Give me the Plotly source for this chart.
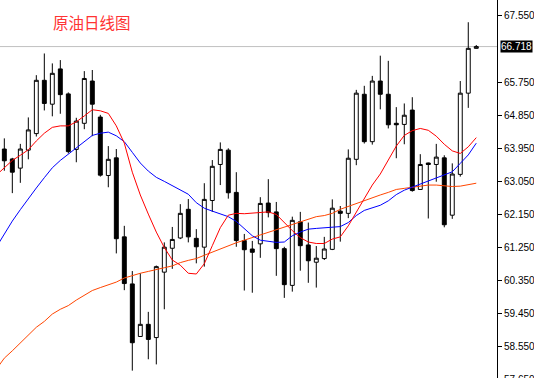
import plotly.graph_objects as go

# ---- data ----
idx = list(range(60))
open_ = [63.93, 63.66, 63.41, 63.90, 64.35, 65.80, 65.15, 66.11, 65.43, 63.92,
         64.63, 65.78, 64.80, 63.21, 63.69, 61.54, 60.26, 58.83, 59.16, 58.80,
         60.58, 61.23, 61.51, 62.29, 61.50, 61.26, 62.53, 63.51, 63.90, 62.75,
         61.44, 61.21, 61.35, 62.46, 62.22, 61.22, 60.22, 61.95, 61.32, 60.85,
         60.95, 61.20, 62.24, 62.18, 63.65, 65.42, 64.13, 65.78, 65.42, 64.63,
         64.60, 64.99, 62.83, 63.55, 63.51, 63.69, 62.13, 63.24, 65.45, 66.67]
high_ = [64.22, 63.69, 64.07, 64.79, 65.94, 66.53, 66.26, 66.35, 65.47, 64.78,
         66.05, 66.08, 64.86, 64.01, 63.93, 61.84, 60.61, 60.55, 59.50, 60.76,
         61.39, 61.81, 62.43, 62.57, 61.75, 63.00, 63.63, 64.11, 63.95, 63.30,
         61.62, 61.43, 62.62, 63.11, 62.49, 61.27, 62.09, 62.22, 61.93, 61.29,
         61.54, 62.56, 62.38, 63.92, 65.54, 65.65, 65.92, 66.47, 66.33, 65.07,
         65.17, 65.34, 63.79, 63.56, 64.07, 63.76, 63.54, 65.78, 67.38, 66.76]
low_ = [63.34, 62.73, 63.01, 63.65, 64.27, 64.98, 64.82, 64.89, 63.81, 63.57,
        64.47, 64.28, 63.18, 62.89, 61.09, 60.09, 57.90, 58.82, 58.21, 58.07,
        59.57, 60.67, 61.48, 61.39, 60.82, 60.73, 62.22, 62.95, 62.58, 61.27,
        60.08, 60.02, 60.97, 62.07, 60.48, 59.88, 60.05, 60.62, 60.29, 60.16,
        60.91, 61.18, 61.41, 62.05, 63.49, 64.08, 64.05, 65.01, 64.49, 63.68,
        64.06, 62.77, 62.82, 62.04, 63.04, 61.80, 62.03, 63.18, 65.05, 66.66]
close_ = [63.61, 63.30, 63.93, 64.45, 65.80, 65.17, 65.99, 65.41, 63.86, 64.69,
          65.85, 65.15, 63.22, 63.65, 61.49, 60.27, 58.66, 59.16, 58.75, 60.73,
          61.26, 61.47, 62.18, 61.54, 61.27, 62.56, 63.46, 63.92, 62.74, 61.44,
          61.19, 61.12, 62.45, 62.20, 61.22, 60.24, 61.99, 61.30, 60.89, 60.96,
          61.21, 62.32, 62.18, 63.68, 65.45, 64.13, 65.78, 65.42, 64.59, 64.59,
          64.85, 62.80, 63.51, 63.51, 63.71, 61.87, 63.25, 65.45, 66.67, 66.718]

ma_idx = list(range(-1, 60))
ma_red = [63.22, 63.41, 63.62, 63.76, 63.91, 64.15, 64.36, 64.52, 64.56, 64.56,
          64.67, 64.83, 65.00, 64.97, 64.90, 64.56, 64.09, 63.30, 62.68, 62.16,
          61.67, 61.25, 60.91, 60.77, 60.55, 60.53, 60.81, 61.30, 61.79, 62.13,
          62.18, 62.17, 62.18, 62.21, 62.22, 62.15, 61.93, 61.71, 61.52, 61.40,
          61.36, 61.36, 61.48, 61.54, 61.84, 62.22, 62.59, 62.95, 63.25, 63.63,
          64.01, 64.30, 64.43, 64.49, 64.44, 64.28, 64.06, 63.88, 63.81, 63.99,
          64.24]
ma_blue = [61.26, 61.62, 61.97, 62.28, 62.59, 62.87, 63.15, 63.42, 63.62, 63.79,
           63.98, 64.14, 64.30, 64.36, 64.39, 64.29, 64.13, 63.84, 63.55, 63.33,
           63.16, 63.05, 62.94, 62.83, 62.70, 62.47, 62.32, 62.24, 62.17, 62.09,
           61.96, 61.76, 61.57, 61.45, 61.41, 61.39, 61.40, 61.57, 61.67, 61.75,
           61.77, 61.78, 61.80, 61.82, 61.93, 62.12, 62.26, 62.33, 62.40, 62.52,
           62.69, 62.81, 62.89, 62.97, 63.05, 63.13, 63.21, 63.31, 63.54, 63.77,
           64.09]
ma_orange = [57.94, 58.24, 58.44, 58.65, 58.86, 59.08, 59.24, 59.44, 59.57, 59.67,
             59.82, 59.95, 60.08, 60.16, 60.24, 60.31, 60.42, 60.49, 60.55, 60.60,
             60.64, 60.70, 60.75, 60.84, 60.90, 60.95, 61.04, 61.13, 61.22, 61.31,
             61.38, 61.45, 61.52, 61.60, 61.67, 61.73, 61.81, 61.89, 61.96, 62.03,
             62.09, 62.12, 62.18, 62.29, 62.37, 62.46, 62.53, 62.61, 62.68, 62.75,
             62.83, 62.86, 62.89, 62.92, 62.95, 62.95, 62.93, 62.91, 62.92, 62.95,
             63.00]

# 66.650 is hidden behind the last-price label in the reference
tick_vals = [58.55, 59.45, 60.35, 61.25, 62.15, 63.05, 63.95, 64.85, 65.75, 67.55]
tick_text = ["58.550", "59.450", "60.350", "61.250", "62.150",
             "63.050", "63.950", "64.850", "65.750", "67.550"]
bottom_tick = 57.65
bottom_tick_text = "57.650"
last_price = 66.718
title_text = "原油日线图"
y_range = [57.70, 67.985]

fig = go.Figure()

fig.add_trace(go.Scatter(x=ma_idx, y=ma_orange, mode="lines",
                         line=dict(color="rgb(255,69,0)", width=1), hoverinfo="skip"))
fig.add_trace(go.Scatter(x=ma_idx, y=ma_blue, mode="lines",
                         line=dict(color="rgb(0,0,255)", width=1), hoverinfo="skip"))
fig.add_trace(go.Scatter(x=ma_idx, y=ma_red, mode="lines",
                         line=dict(color="rgb(255,0,0)", width=1), hoverinfo="skip"))

fig.add_trace(go.Candlestick(
    x=idx, open=open_, high=high_, low=low_, close=close_,
    increasing=dict(line=dict(color="black", width=1), fillcolor="white"),
    decreasing=dict(line=dict(color="black", width=1), fillcolor="black"),
    whiskerwidth=0,
))

fig.add_shape(type="line", xref="paper", x0=0, x1=1, yref="y",
              y0=last_price, y1=last_price, line=dict(color="#c0c0c0", width=1),
              layer="below")

fig.add_annotation(xref="paper", x=1, yref="y", y=last_price, text=f"{last_price:.3f}",
                   showarrow=False, xanchor="left", yanchor="middle", xshift=3,
                   bgcolor="black", borderpad=0,
                   font=dict(family="Liberation Sans, Arial", size=10, color="white"))

# partially visible bottom tick label (just below the visible range)
bottom_frac = (bottom_tick - y_range[0]) / (y_range[1] - y_range[0])
fig.add_annotation(xref="paper", x=1, yref="paper", y=bottom_frac, text=bottom_tick_text,
                   showarrow=False, xanchor="left", yanchor="middle", xshift=5,
                   font=dict(family="Liberation Sans, Arial", size=10, color="black"))

fig.add_annotation(xref="paper", x=0.103, yref="paper", y=0.942, text=title_text,
                   showarrow=False, xanchor="left", yanchor="middle",
                   font=dict(family="Noto Sans CJK SC", size=15.5, color="#ff3333"))

fig.update_layout(
    width=534, height=378,
    margin=dict(l=0, r=37, t=0, b=0),
    paper_bgcolor="white", plot_bgcolor="white",
    showlegend=False,
    xaxis=dict(range=[-0.54, 61.59], rangeslider=dict(visible=False),
               showgrid=False, zeroline=False, showticklabels=False, ticks="",
               showline=False),
    yaxis=dict(side="right", range=y_range, tickmode="array",
               tickvals=tick_vals, ticktext=tick_text, showgrid=False, zeroline=False,
               showline=True, linecolor="black", linewidth=1,
               ticks="outside", ticklen=4, tickcolor="black", tickwidth=1,
               tickfont=dict(family="Liberation Sans, Arial", size=10, color="black")),
)

fig.write_html("out.html", config={"displayModeBar": False},
               post_script="document.body.style.margin='0';document.body.style.overflow='hidden';")
